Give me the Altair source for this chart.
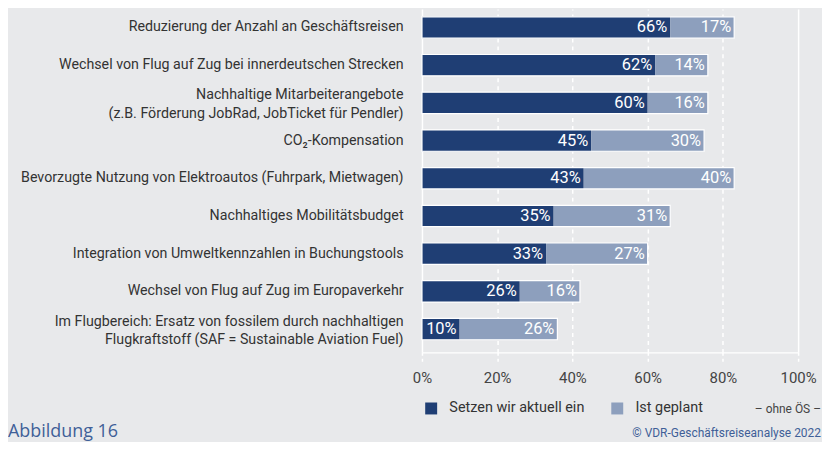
import altair as alt
import pandas as pd

categories = [
    "Reduzierung der Anzahl an Geschäftsreisen",
    "Wechsel von Flug auf Zug bei innerdeutschen Strecken",
    "Nachhaltige Mitarbeiterangebote|(z.B. Förderung JobRad, JobTicket für Pendler)",
    "CO₂-Kompensation",
    "Bevorzugte Nutzung von Elektroautos (Fuhrpark, Mietwagen)",
    "Nachhaltiges Mobilitätsbudget",
    "Integration von Umweltkennzahlen in Buchungstools",
    "Wechsel von Flug auf Zug im Europaverkehr",
    "Im Flugbereich: Ersatz von fossilem durch nachhaltigen|Flugkraftstoff (SAF = Sustainable Aviation Fuel)",
]
aktuell = [66, 62, 60, 45, 43, 35, 33, 26, 10]
geplant = [17, 14, 16, 30, 40, 31, 27, 16, 26]
series = ["Setzen wir aktuell ein", "Ist geplant"]
colors = ["#1f3e74", "#8d9fbd"]
x_ticks = [0, 20, 40, 60, 80, 100]
footer_left = ["Abbildung 16"]
footer_right = ["© VDR-Geschäftsreiseanalyse 2022"]
footer_note = ["– ohne ÖS –"]

FONT = "Roboto"
BG = "#e8e9eb"

rows = []
for c, a, g in zip(categories, aktuell, geplant):
    rows.append({"cat": c, "serie": series[0], "start": 0, "end": a, "label": f"{a}%"})
    rows.append({"cat": c, "serie": series[1], "start": a, "end": a + g, "label": f"{g}%"})
df = pd.DataFrame(rows)
tot = pd.DataFrame({"cat": categories, "zero": [0] * len(categories),
                    "total": [a + g for a, g in zip(aktuell, geplant)]})

yenc = alt.Y(
    "cat:N", sort=categories,
    scale=alt.Scale(paddingInner=0.433, paddingOuter=0.27, align=0.38),
    axis=alt.Axis(title=None, labelExpr="split(datum.label, '|')", labelFont=FONT,
                  labelFontSize=14.3, labelColor="#333333", labelPadding=19, ticks=False,
                  domain=False, labelLimit=420, labelLineHeight=19,
                  labelOffset={"condition": {"test": "indexof(datum.label, '|') >= 0",
                                             "value": -7.5},
                               "value": 0}),
)

xscale = alt.Scale(domain=[0, 100], nice=False)
xaxis = alt.Axis(
    values=x_ticks, title=None, labelExpr="datum.value + '%'", grid=True,
    gridColor="white", gridWidth=1.5,
    gridDash={"condition": {"test": "datum.value === 0 || datum.value === 100", "value": [1, 0]},
              "value": [4, 4]},
    domainColor="white", domainWidth=1.5, tickColor="white", tickDash=[3, 3],
    tickSize=10, tickWidth=1.5, labelFont=FONT, labelFontSize=15, labelColor="#444444",
    labelPadding=8, labelFlush=False,
)

bars = alt.Chart(df).mark_bar().encode(
    y=yenc,
    x=alt.X("start:Q", scale=xscale, axis=xaxis),
    x2="end:Q",
    color=alt.Color("serie:N", scale=alt.Scale(domain=series, range=colors),
                    legend=alt.Legend(orient="none", legendX=2, legendY=394,
                                      direction="horizontal", title=None,
                                      symbolType="square", symbolSize=144,
                                      symbolStrokeWidth=0, labelFont=FONT,
                                      labelFontSize=14.5, labelColor="#333333",
                                      columnPadding=25, labelOffset=11, padding=0)),
)

outline = alt.Chart(tot).mark_bar(fillOpacity=0, stroke="white", strokeWidth=1.2).encode(
    y=alt.Y("cat:N", sort=categories),
    x=alt.X("zero:Q", scale=xscale),
    x2="total:Q",
)

labels = alt.Chart(df).mark_text(align="right", dx=-3, color="white", font=FONT,
                                 fontSize=16.5, baseline="middle").encode(
    y=alt.Y("cat:N", sort=categories),
    x=alt.X("end:Q", scale=xscale),
    text="label:N",
)

f1 = alt.Chart(pd.DataFrame({"t": footer_left})).mark_text(
    align="left", baseline="middle", font="Open Sans", fontSize=18, color="#3f5f98"
).encode(x=alt.value(-416), y=alt.value(425), text="t:N")

f2 = alt.Chart(pd.DataFrame({"t": footer_right})).mark_text(
    align="right", baseline="middle", font="Roboto", fontSize=12, color="#3f5f98"
).encode(x=alt.value(401), y=alt.value(426), text="t:N")

f3 = alt.Chart(pd.DataFrame({"t": footer_note})).mark_text(
    align="right", baseline="middle", font=FONT, fontSize=12, color="#444444"
).encode(x=alt.value(401), y=alt.value(402), text="t:N")

chart = alt.layer(bars, outline, labels, f1, f2, f3).properties(
    width=378, height=345,
    autosize=alt.AutoSizeParams(type="none"),
    padding={"left": 416, "top": 0, "right": 24, "bottom": 89},
    background=BG,
).configure_view(stroke=None)

chart.save("out.html", embed_options={"renderer": "svg", "actions": False})
